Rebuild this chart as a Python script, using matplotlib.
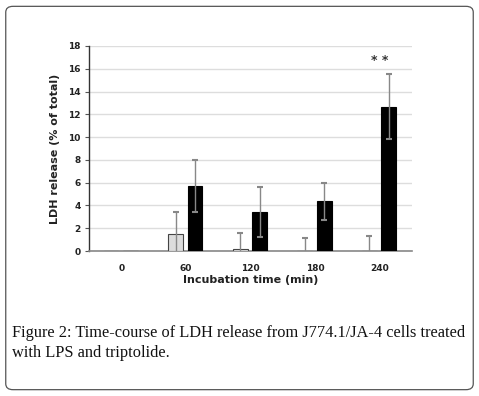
import numpy as np
import matplotlib.pyplot as plt
from matplotlib.patches import FancyBboxPatch

# data
times = ['0', '60', '120', '180', '240']
lps_mean = [0, 1.5, 0.2, 0.0, 0.0]
lps_err = [0, 1.95, 1.35, 1.15, 1.3]
trip_mean = [0, 5.7, 3.45, 4.35, 12.65]
trip_err = [0, 2.3, 2.2, 1.6, 2.85]
yticks = np.arange(0, 19, 2)

fig = plt.figure(figsize=(4.79, 3.96), dpi=100, facecolor='white')

# rounded frame around figure + caption
frame = FancyBboxPatch((0.012, 0.016), 0.976, 0.968, boxstyle='round,pad=0,rounding_size=0.015',
                       transform=fig.transFigure, facecolor='none', edgecolor='#555555', linewidth=0.9)
fig.patches.append(frame)

ax = fig.add_axes([0.186, 0.366, 0.674, 0.518])
x = np.arange(len(times))
w = 0.23

ax.bar(x - 0.16, lps_mean, w, color='#dcdcdc', edgecolor='#444444', linewidth=0.8, zorder=3)
ax.bar(x + 0.14, trip_mean, w, color='black', edgecolor='black', linewidth=0.8, zorder=3)
ax.errorbar(x[1:] - 0.16, lps_mean[1:], yerr=lps_err[1:], fmt='none', ecolor='#888888',
            elinewidth=1.0, capsize=2, capthick=1.5, zorder=4)
ax.errorbar(x[1:] + 0.14, trip_mean[1:], yerr=trip_err[1:], fmt='none', ecolor='#888888',
            elinewidth=1.0, capsize=2, capthick=1.5, zorder=4)

ax.text(x[4], 16.7, '* *', ha='center', va='center', fontsize=9, fontweight='bold', color='#333333')

ax.set_xlim(-0.5, 4.5)
ax.set_ylim(0, 18)
ax.set_yticks(yticks)
ax.set_xticks(x)
ax.set_xticklabels(times)
ax.yaxis.grid(True, color='#dddddd', linewidth=1.0, zorder=0)
ax.set_axisbelow(True)
for s in ['top', 'right']:
    ax.spines[s].set_visible(False)
ax.spines['left'].set_color('#333333')
ax.spines['left'].set_linewidth(1.0)
ax.spines['bottom'].set_color('#888888')
ax.spines['bottom'].set_linewidth(1.2)
ax.tick_params(axis='y', length=3, color='#555555', labelsize=6.5, pad=3)
ax.tick_params(axis='x', length=0, labelsize=6.5, pad=9)
for lab in ax.get_xticklabels() + ax.get_yticklabels():
    lab.set_fontweight('bold')
    lab.set_color('#222222')
ax.set_xlabel('Incubation time (min)', fontsize=8, fontweight='bold', labelpad=2, color='#222222')
ax.set_ylabel('LDH release (% of total)', fontsize=8, fontweight='bold', labelpad=6, color='#222222')

fig.text(0.025, 1 - 337 / 396, 'Figure 2: Time-course of LDH release from J774.1/JA-4 cells treated',
         fontsize=11.8, family='Liberation Serif', va='baseline', color='#111111')
fig.text(0.025, 1 - 357 / 396, 'with LPS and triptolide.',
         fontsize=11.8, family='Liberation Serif', va='baseline', color='#111111')

fig.savefig('out.png', dpi=100)
